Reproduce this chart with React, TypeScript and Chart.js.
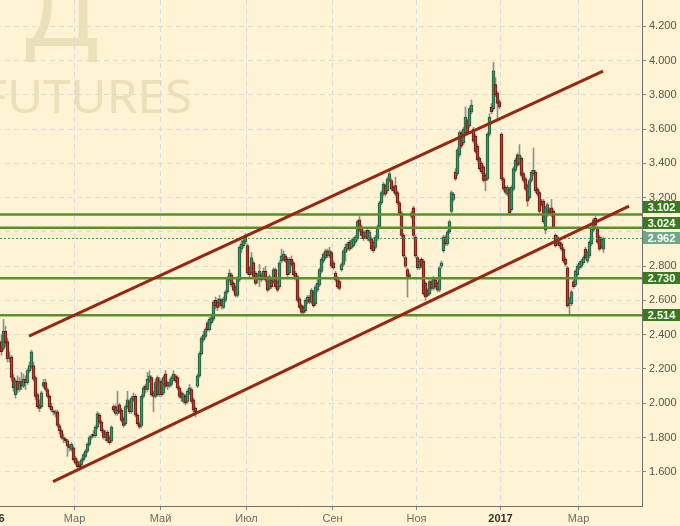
import { useEffect, useRef } from 'react';
import { Chart, registerables } from 'chart.js';

Chart.register(...registerables);

// ---- DATA (daily candles, trading-day index 0..301, mid-Jan 2016 .. mid-Mar 2017) ----
const opens = [
  2.36, 2.32, 2.42, 2.36, 2.26, 2.27, 2.15, 2.05, 2.13, 2.08,
  2.13, 2.10, 2.14, 2.12, 2.19, 2.21, 2.22, 2.15, 2.05, 1.99,
  1.98, 2.10, 2.12, 2.08, 2.04, 1.98, 1.955, 1.94, 1.95, 1.87,
  1.84, 1.80, 1.79, 1.78, 1.75, 1.73, 1.74, 1.68, 1.66, 1.64,
  1.64, 1.67, 1.69, 1.72, 1.76, 1.80, 1.82, 1.81, 1.86, 1.93,
  1.89, 1.84, 1.80, 1.83, 1.80, 1.78, 1.98, 1.98, 1.94, 1.99,
  1.96, 1.91, 1.88, 1.98, 2.01, 1.95, 2.02, 2.04, 1.93, 1.88,
  1.87, 2.04, 2.10, 2.08, 2.13, 2.15, 2.06, 2.04, 2.15, 2.05,
  2.13, 2.06, 2.17, 2.12, 2.10, 2.11, 2.14, 2.16, 2.15, 2.09,
  2.06, 2.01, 2.04, 2.01, 2.06, 2.08, 2.02, 1.97, 2.10, 2.16,
  2.29, 2.37, 2.39, 2.47, 2.43, 2.47, 2.49, 2.60, 2.59, 2.58,
  2.60, 2.56, 2.60, 2.65, 2.72, 2.75, 2.70, 2.68, 2.63, 2.72,
  2.90, 2.92, 2.94, 2.92, 2.79, 2.76, 2.82, 2.76, 2.72, 2.72,
  2.75, 2.73, 2.77, 2.73, 2.67, 2.72, 2.71, 2.78, 2.71, 2.68,
  2.83, 2.84, 2.86, 2.84, 2.76, 2.84, 2.82, 2.76, 2.74, 2.61,
  2.57, 2.56, 2.54, 2.59, 2.62, 2.59, 2.65, 2.58, 2.66, 2.69,
  2.77, 2.83, 2.85, 2.89, 2.86, 2.88, 2.82, 2.76, 2.73, 2.71,
  2.78, 2.81, 2.88, 2.90, 2.94, 2.91, 2.92, 2.94, 2.96, 3.07,
  3.03, 3.00, 2.97, 3.01, 2.95, 2.96, 2.94, 2.91, 2.96, 3.03,
  3.17, 3.22, 3.27, 3.24, 3.30, 3.30, 3.26, 3.27, 3.23, 3.17,
  3.11, 2.98, 2.85, 2.78, 2.75, 3.09, 3.14, 2.97, 2.85, 2.79,
  2.84, 2.83, 2.70, 2.66, 2.64, 2.71, 2.67, 2.72, 2.70, 2.66,
  2.80, 2.89, 2.97, 2.93, 3.00, 3.12, 3.19, 3.35, 3.34, 3.45,
  3.58, 3.52, 3.58, 3.65, 3.62, 3.70, 3.60, 3.56, 3.50, 3.43,
  3.40, 3.38, 3.33, 3.31, 3.57, 3.73, 3.72, 3.86, 3.81, 3.76,
  3.57, 3.31, 3.26, 3.22, 3.25, 3.13, 3.25, 3.36, 3.45, 3.40,
  3.43, 3.34, 3.31, 3.27, 3.20, 3.30, 3.34, 3.35, 3.25, 3.23,
  3.18, 3.18, 3.01, 3.10, 3.13, 3.14, 3.12, 2.98, 2.93, 2.94,
  2.93, 2.90, 2.84, 2.79, 2.58, 2.58, 2.71, 2.69, 2.75, 2.79,
  2.80, 2.82, 2.90, 2.83, 2.86, 2.93, 3.01, 3.08, 3.02, 2.97,
  2.96, 2.90,
];

const highs = [
  2.40, 2.49, 2.45, 2.38, 2.30, 2.28, 2.17, 2.14, 2.16, 2.15,
  2.18, 2.17, 2.16, 2.20, 2.24, 2.31, 2.24, 2.16, 2.06, 2.02,
  2.07, 2.14, 2.14, 2.09, 2.05, 2.00, 1.96, 1.96, 1.96, 1.88,
  1.85, 1.82, 1.80, 1.79, 1.76, 1.77, 1.75, 1.69, 1.67, 1.66,
  1.68, 1.71, 1.73, 1.77, 1.81, 1.82, 1.84, 1.87, 1.95, 1.94,
  1.90, 1.85, 1.84, 1.84, 1.81, 1.87, 1.99, 1.99, 2.07, 2.00,
  1.97, 1.92, 1.99, 2.07, 2.02, 2.04, 2.06, 2.05, 1.94, 1.89,
  2.05, 2.10, 2.11, 2.18, 2.19, 2.16, 2.07, 2.14, 2.16, 2.15,
  2.14, 2.16, 2.19, 2.13, 2.14, 2.16, 2.19, 2.17, 2.16, 2.10,
  2.07, 2.06, 2.05, 2.08, 2.11, 2.09, 2.03, 1.98, 2.17, 2.30,
  2.39, 2.42, 2.44, 2.48, 2.50, 2.52, 2.60, 2.62, 2.61, 2.63,
  2.61, 2.62, 2.66, 2.74, 2.78, 2.76, 2.71, 2.69, 2.74, 2.92,
  2.95, 2.97, 2.99, 2.93, 2.80, 2.88, 2.83, 2.77, 2.76, 2.81,
  2.76, 2.79, 2.80, 2.74, 2.75, 2.73, 2.79, 2.79, 2.72, 2.83,
  2.90, 2.89, 2.87, 2.85, 2.85, 2.86, 2.83, 2.77, 2.75, 2.62,
  2.58, 2.57, 2.61, 2.63, 2.63, 2.67, 2.66, 2.69, 2.72, 2.79,
  2.85, 2.88, 2.90, 2.90, 2.91, 2.89, 2.83, 2.77, 2.74, 2.72,
  2.82, 2.90, 2.93, 2.94, 2.95, 2.96, 2.97, 2.98, 3.07, 3.09,
  3.04, 3.01, 3.01, 3.02, 3.01, 2.97, 2.95, 2.98, 3.04, 3.18,
  3.24, 3.29, 3.28, 3.32, 3.36, 3.31, 3.27, 3.32, 3.24, 3.18,
  3.12, 2.99, 2.86, 2.79, 2.76, 3.12, 3.15, 2.98, 2.86, 2.84,
  2.85, 2.84, 2.71, 2.67, 2.72, 2.72, 2.74, 2.73, 2.71, 2.80,
  2.83, 2.98, 2.98, 3.01, 3.07, 3.24, 3.23, 3.37, 3.49, 3.59,
  3.59, 3.61, 3.73, 3.66, 3.73, 3.77, 3.61, 3.57, 3.51, 3.44,
  3.41, 3.39, 3.34, 3.58, 3.69, 3.75, 3.99, 3.90, 3.82, 3.77,
  3.58, 3.32, 3.27, 3.27, 3.26, 3.27, 3.38, 3.43, 3.46, 3.51,
  3.44, 3.35, 3.32, 3.28, 3.31, 3.36, 3.49, 3.36, 3.26, 3.24,
  3.19, 3.19, 3.15, 3.17, 3.14, 3.19, 3.13, 2.99, 2.98, 2.95,
  2.94, 2.91, 2.85, 2.80, 2.62, 2.66, 2.72, 2.78, 2.81, 2.83,
  2.84, 2.86, 2.91, 2.89, 2.95, 3.03, 3.08, 3.09, 3.03, 2.98,
  2.97, 2.97,
];

const lows = [
  2.28, 2.31, 2.33, 2.24, 2.24, 2.13, 2.07, 2.03, 2.06, 2.07,
  2.08, 2.09, 2.08, 2.11, 2.18, 2.20, 2.13, 2.02, 1.97, 1.95,
  1.97, 2.09, 2.07, 2.03, 1.97, 1.95, 1.93, 1.92, 1.86, 1.82,
  1.79, 1.77, 1.77, 1.69, 1.72, 1.72, 1.66, 1.64, 1.62, 1.61,
  1.63, 1.66, 1.68, 1.71, 1.75, 1.79, 1.80, 1.80, 1.85, 1.88,
  1.83, 1.79, 1.78, 1.77, 1.76, 1.77, 1.95, 1.93, 1.93, 1.94,
  1.89, 1.86, 1.87, 1.97, 1.94, 1.94, 2.01, 1.92, 1.87, 1.85,
  1.86, 2.03, 2.06, 2.07, 2.12, 2.04, 1.95, 2.03, 2.04, 2.04,
  2.04, 2.05, 2.09, 2.08, 2.09, 2.10, 2.13, 2.12, 2.08, 2.03,
  2.01, 2.00, 1.99, 2.00, 2.05, 2.00, 1.93, 1.92, 2.09, 2.15,
  2.28, 2.36, 2.38, 2.42, 2.42, 2.46, 2.48, 2.55, 2.54, 2.56,
  2.55, 2.55, 2.59, 2.64, 2.71, 2.68, 2.65, 2.62, 2.62, 2.71,
  2.88, 2.91, 2.93, 2.75, 2.73, 2.75, 2.73, 2.69, 2.70, 2.68,
  2.71, 2.72, 2.71, 2.65, 2.66, 2.67, 2.70, 2.67, 2.65, 2.67,
  2.82, 2.83, 2.82, 2.74, 2.75, 2.80, 2.74, 2.72, 2.59, 2.55,
  2.52, 2.52, 2.53, 2.58, 2.58, 2.58, 2.56, 2.57, 2.65, 2.68,
  2.76, 2.82, 2.84, 2.85, 2.85, 2.79, 2.78, 2.71, 2.67, 2.66,
  2.77, 2.80, 2.83, 2.89, 2.89, 2.90, 2.91, 2.93, 2.95, 3.00,
  2.97, 2.95, 2.96, 2.95, 2.94, 2.89, 2.88, 2.90, 2.95, 3.02,
  3.16, 3.21, 3.21, 3.23, 3.29, 3.24, 3.23, 3.21, 3.16, 3.10,
  2.97, 2.85, 2.79, 2.62, 2.73, 3.08, 2.97, 2.85, 2.78, 2.78,
  2.79, 2.63, 2.60, 2.62, 2.63, 2.66, 2.66, 2.67, 2.65, 2.65,
  2.79, 2.88, 2.92, 2.92, 2.99, 3.11, 3.18, 3.30, 3.33, 3.44,
  3.49, 3.51, 3.57, 3.57, 3.61, 3.69, 3.52, 3.46, 3.41, 3.36,
  3.34, 3.29, 3.24, 3.30, 3.56, 3.69, 3.71, 3.79, 3.66, 3.72,
  3.30, 3.24, 3.22, 3.21, 3.10, 3.12, 3.24, 3.35, 3.38, 3.39,
  3.32, 3.29, 3.24, 3.15, 3.19, 3.29, 3.33, 3.23, 3.21, 3.11,
  3.15, 3.05, 2.99, 3.09, 3.10, 3.09, 3.02, 2.91, 2.92, 2.91,
  2.89, 2.82, 2.80, 2.56, 2.52, 2.57, 2.67, 2.68, 2.74, 2.78,
  2.79, 2.81, 2.84, 2.82, 2.85, 2.92, 3.00, 3.03, 2.93, 2.89,
  2.90, 2.88,
];

const closes = [
  2.30, 2.42, 2.35, 2.26, 2.27, 2.15, 2.09, 2.13, 2.08, 2.12,
  2.10, 2.14, 2.12, 2.19, 2.22, 2.30, 2.14, 2.04, 1.98, 1.97,
  2.06, 2.12, 2.08, 2.04, 1.98, 1.96, 1.948, 1.95, 1.87, 1.84,
  1.80, 1.79, 1.78, 1.75, 1.74, 1.76, 1.67, 1.65, 1.63, 1.63,
  1.67, 1.70, 1.72, 1.76, 1.80, 1.81, 1.81, 1.86, 1.94, 1.89,
  1.84, 1.80, 1.82, 1.78, 1.77, 1.86, 1.96, 1.94, 1.96, 1.95,
  1.90, 1.87, 1.98, 2.02, 1.95, 2.03, 2.04, 1.93, 1.88, 1.86,
  2.04, 2.09, 2.08, 2.14, 2.16, 2.05, 2.04, 2.12, 2.05, 2.13,
  2.05, 2.15, 2.10, 2.10, 2.12, 2.15, 2.17, 2.13, 2.09, 2.04,
  2.03, 2.05, 2.00, 2.07, 2.09, 2.01, 1.96, 1.95, 2.16, 2.29,
  2.38, 2.40, 2.43, 2.43, 2.49, 2.50, 2.59, 2.57, 2.56, 2.61,
  2.57, 2.61, 2.65, 2.73, 2.76, 2.69, 2.66, 2.63, 2.73, 2.91,
  2.93, 2.95, 2.97, 2.76, 2.75, 2.85, 2.74, 2.70, 2.75, 2.77,
  2.72, 2.77, 2.72, 2.66, 2.74, 2.68, 2.78, 2.68, 2.66, 2.82,
  2.86, 2.87, 2.83, 2.75, 2.84, 2.81, 2.75, 2.73, 2.60, 2.56,
  2.53, 2.53, 2.60, 2.62, 2.59, 2.66, 2.57, 2.68, 2.70, 2.78,
  2.84, 2.87, 2.89, 2.86, 2.89, 2.80, 2.79, 2.72, 2.68, 2.67,
  2.81, 2.89, 2.91, 2.93, 2.90, 2.95, 2.96, 2.97, 3.06, 3.01,
  2.98, 2.96, 3.00, 2.96, 3.00, 2.90, 2.89, 2.97, 3.03, 3.17,
  3.23, 3.28, 3.22, 3.31, 3.34, 3.25, 3.24, 3.22, 3.17, 3.11,
  2.98, 2.86, 2.80, 2.74, 2.74, 3.11, 2.98, 2.86, 2.79, 2.83,
  2.80, 2.64, 2.62, 2.63, 2.71, 2.67, 2.73, 2.68, 2.66, 2.79,
  2.82, 2.97, 2.93, 3.00, 3.06, 3.23, 3.22, 3.31, 3.48, 3.58,
  3.50, 3.60, 3.67, 3.58, 3.72, 3.74, 3.53, 3.47, 3.42, 3.37,
  3.35, 3.30, 3.30, 3.57, 3.67, 3.70, 3.94, 3.80, 3.75, 3.73,
  3.31, 3.25, 3.23, 3.26, 3.11, 3.26, 3.37, 3.42, 3.39, 3.45,
  3.33, 3.30, 3.25, 3.18, 3.30, 3.35, 3.36, 3.24, 3.22, 3.12,
  3.16, 3.06, 3.14, 3.16, 3.11, 3.10, 3.03, 2.92, 2.97, 2.92,
  2.90, 2.83, 2.81, 2.57, 2.61, 2.65, 2.68, 2.77, 2.80, 2.82,
  2.83, 2.85, 2.85, 2.88, 2.94, 3.02, 3.07, 3.04, 2.94, 2.90,
  2.91, 2.96,
];

// month ticks (trading-day index of month boundary) and their labels
const monthTickIdx = [-4.5, 36.5, 79.5, 122.5, 165.5, 207.5, 249.5, 288.5];
const monthTickLabels = ['2016', 'Мар', 'Май', 'Июл', 'Сен', 'Ноя', '2017', 'Мар'];
const yearLabels = ['2016', '2017'];

const priceTicks = [1.6, 1.8, 2.0, 2.2, 2.4, 2.6, 2.8, 3.0, 3.2, 3.4, 3.6, 3.8, 4.0, 4.2];
const hiddenPriceTicks = [3.0];

const levelValues = [3.102, 3.024, 2.73, 2.514];
const lastPrice = 2.962;

const upperTrendIdx = [13.75, 300.75];
const upperTrendVal = [2.392, 3.939];
const lowerTrendIdx = [25.75, 313.75];
const lowerTrendVal = [1.542, 3.151];

const xMin = -20.75;
const xMax = 320.25;
const yMin = 1.4;
const yMax = 4.354;

// ---- STYLE ----
const BG = '#fef3d2';
const GRID = '#d9dbe0';
const UP_FILL = '#3e9464';
const UP_EDGE = '#24573a';
const DOWN_FILL = '#c23b2e';
const DOWN_EDGE = '#5e1a10';
const WICK = '#8f8f8f';
const LEVEL = '#5b8f2a';
const LEVEL_BG = '#3a7a1c';
const LAST_BG = '#6fa88a';
const LAST_LINE = '#3d9b6b';
const TREND = '#962712';
const WATERMARK = '#ece0ba';
const OX = 40;
const OY = 30;
const LABEL_GAP = 15.5;
const FONT = '"Liberation Sans", Arial, sans-serif';

const watermarkPlugin = {
  id: 'watermark',
  beforeDraw(chart: any) {
    const ctx = chart.ctx;
    ctx.save();
    ctx.fillStyle = WATERMARK;
    ctx.textBaseline = 'alphabetic';
    ctx.textAlign = 'left';
    ctx.font = '100px "Noto Sans"';
    ctx.fillText('Д', OX + 25, OY + 46);
    ctx.font = '46px "Noto Sans"';
    const wU = ctx.measureText('UTURES').width;
    const sx = 185 / wU;
    ctx.translate(OX + 192, OY + 113);
    ctx.scale(sx, 1);
    ctx.textAlign = 'right';
    ctx.fillText('FUTURES', 0, 0);
    ctx.restore();
  },
};

const levelLabelPlugin = {
  id: 'levelLabels',
  afterDraw(chart: any) {
    const ys = chart.scales.y;
    const ctx = chart.ctx;
    const area = chart.chartArea;
    const items = [
      ...levelValues.map((v) => ({ v, bg: LEVEL_BG })),
      { v: lastPrice, bg: LAST_BG },
    ]
      .map((it) => ({ ...it, y: ys.getPixelForValue(it.v) }))
      .sort((a, b) => b.y - a.y);
    for (let k = 1; k < items.length; k++) {
      if (items[k].y > items[k - 1].y - LABEL_GAP) items[k].y = items[k - 1].y - LABEL_GAP;
    }
    ctx.save();
    items.forEach((it) => {
      const top = Math.round(it.y - 6);
      ctx.fillStyle = it.bg;
      ctx.fillRect(area.right + 1, top, chart.width - area.right - 1, 12);
      ctx.fillStyle = '#ffffff';
      ctx.font = 'bold 11px ' + FONT;
      ctx.textAlign = 'center';
      ctx.textBaseline = 'middle';
      ctx.fillText(it.v.toFixed(3), (area.right + 1 + chart.width) / 2, top + 6.5);
    });
    ctx.restore();
  },
};

export default function App() {
  const ref = useRef<HTMLCanvasElement | null>(null);

  useEffect(() => {
    document.body.style.margin = '0';
    const canvas = ref.current;
    if (!canvas) return;

    const isUp = closes.map((c, i) => c >= opens[i]);
    const levelSets = levelValues.map((v) => ({
      type: 'line' as const,
      data: [{ x: xMin, y: v }, { x: xMax, y: v }],
      borderColor: LEVEL,
      borderWidth: 2.5,
      pointRadius: 0,
      fill: false,
      order: 0,
    }));

    const chart = new Chart(canvas, {
      type: 'bar',
      data: {
        datasets: [
          {
            type: 'line',
            data: upperTrendIdx.map((x, k) => ({ x, y: upperTrendVal[k] })),
            borderColor: TREND,
            borderWidth: 3,
            pointRadius: 0,
            fill: false,
            order: 0,
          },
          {
            type: 'line',
            data: lowerTrendIdx.map((x, k) => ({ x, y: lowerTrendVal[k] })),
            borderColor: TREND,
            borderWidth: 3,
            pointRadius: 0,
            fill: false,
            order: 0,
          },
          ...levelSets,
          {
            type: 'line',
            data: [{ x: xMin, y: lastPrice }, { x: xMax, y: lastPrice }],
            borderColor: LAST_LINE,
            borderWidth: 1,
            borderDash: [2, 2],
            pointRadius: 0,
            fill: false,
            order: 0,
          },
          {
            type: 'bar',
            data: opens.map((o, i) => ({ x: i, y: [o, closes[i]] })),
            backgroundColor: isUp.map((u) => (u ? UP_FILL : DOWN_FILL)),
            borderColor: isUp.map((u) => (u ? UP_EDGE : DOWN_EDGE)),
            borderWidth: 1,
            borderSkipped: false,
            barThickness: 3,
            grouped: false,
            order: 1,
          },
          {
            type: 'bar',
            data: lows.map((l, i) => ({ x: i, y: [l, highs[i]] })),
            backgroundColor: WICK,
            borderWidth: 0,
            barThickness: 1,
            grouped: false,
            order: 2,
          },
        ] as any,
      },
      options: {
        responsive: false,
        animation: false,
        devicePixelRatio: 1,
        events: [],
        layout: { padding: { left: 0, right: 0, top: OY, bottom: 0 } },
        plugins: { legend: { display: false }, tooltip: { enabled: false } },
        scales: {
          x: {
            type: 'linear',
            min: xMin,
            max: xMax,
            offset: false,
            position: 'bottom',
            grid: {
              offset: false,
              color: GRID,
              lineWidth: 1,
              drawTicks: true,
              tickLength: 4,
              tickColor: '#888888',
              tickBorderDash: [],
            },
            border: { display: true, color: '#6f6f6f', width: 1, dash: [5, 4] },
            afterBuildTicks: (scale: any) => {
              scale.ticks = monthTickIdx.map((v) => ({ value: v }));
            },
            afterFit: (scale: any) => {
              scale.height = 20;
            },
            ticks: {
              autoSkip: false,
              maxRotation: 0,
              padding: 2,
              callback: (value: any) => {
                const k = monthTickIdx.indexOf(Number(value));
                return k >= 0 ? monthTickLabels[k] : '';
              },
              color: (ctx: any) =>
                yearLabels.includes(monthTickLabels[ctx.index]) ? '#333333' : '#6b6b6b',
              font: (ctx: any) => ({
                family: FONT,
                size: 11,
                weight: yearLabels.includes(monthTickLabels[ctx.index]) ? 'bold' : 'normal',
              }),
            },
          },
          y: {
            type: 'linear',
            position: 'right',
            min: yMin,
            max: yMax,
            beginAtZero: false,
            grid: {
              color: GRID,
              lineWidth: 1,
              drawTicks: true,
              tickLength: 4,
              tickColor: '#888888',
              tickBorderDash: [],
            },
            border: { display: true, color: '#6f6f6f', width: 1, dash: [5, 4] },
            afterBuildTicks: (scale: any) => {
              scale.ticks = priceTicks.map((v) => ({ value: v }));
            },
            afterFit: (scale: any) => {
              scale.width = 38;
            },
            ticks: {
              padding: 3,
              color: '#555555',
              font: { family: FONT, size: 11 },
              callback: (value: any) =>
                hiddenPriceTicks.includes(Number(value)) ? '' : Number(value).toFixed(3),
            },
          },
        },
      } as any,
      plugins: [watermarkPlugin, levelLabelPlugin],
    });

    return () => chart.destroy();
  }, []);

  return (
    <div
      style={{
        position: 'relative',
        width: 680,
        height: 526,
        overflow: 'hidden',
        background: BG,
      }}
    >
      <canvas
        ref={ref}
        width={680 + OX}
        height={526 + OY}
        style={{ position: 'absolute', left: -OX, top: -OY, width: 680 + OX, height: 526 + OY }}
      />
    </div>
  );
}
